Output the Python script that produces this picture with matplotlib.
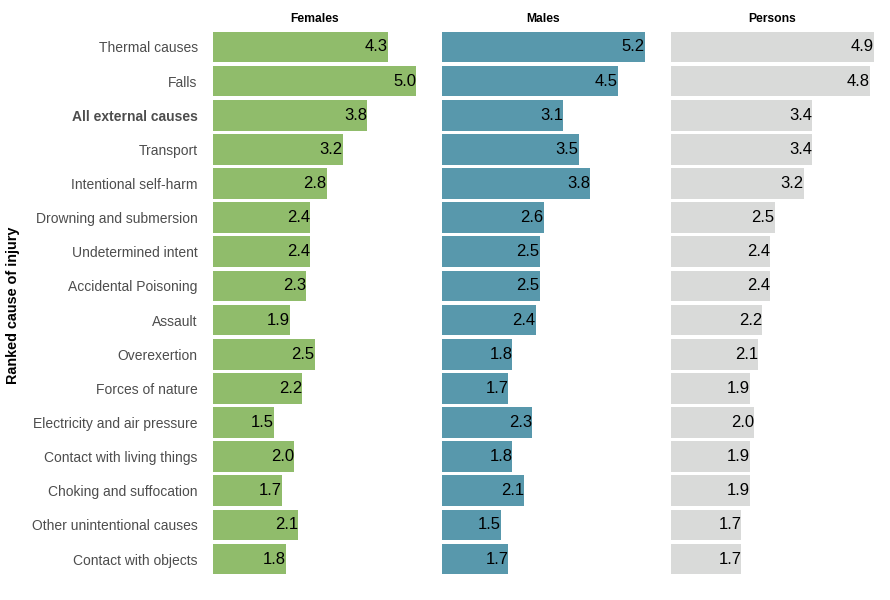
import matplotlib
matplotlib.use('Agg')
import matplotlib.pyplot as plt

plt.rcParams['font.family'] = ['Liberation Sans', 'DejaVu Sans']

causes = ['Thermal causes', 'Falls', 'All external causes', 'Transport',
          'Intentional self-harm', 'Drowning and submersion', 'Undetermined intent',
          'Accidental Poisoning', 'Assault', 'Overexertion', 'Forces of nature',
          'Electricity and air pressure', 'Contact with living things',
          'Choking and suffocation', 'Other unintentional causes', 'Contact with objects']
females = [4.3, 5.0, 3.8, 3.2, 2.8, 2.4, 2.4, 2.3, 1.9, 2.5, 2.2, 1.5, 2.0, 1.7, 2.1, 1.8]
males = [5.2, 4.5, 3.1, 3.5, 3.8, 2.6, 2.5, 2.5, 2.4, 1.8, 1.7, 2.3, 1.8, 2.1, 1.5, 1.7]
persons = [4.9, 4.8, 3.4, 3.4, 3.2, 2.5, 2.4, 2.4, 2.2, 2.1, 1.9, 2.0, 1.9, 1.9, 1.7, 1.7]

panels = [('Females', females, '#90bc6b'),
          ('Males', males, '#5898ac'),
          ('Persons', persons, '#d9dad9')]

fig = plt.figure(figsize=(8.9, 6), dpi=100)
lefts = [213, 442, 671]
pos = list(range(len(causes)))

for i, (name, vals, col) in enumerate(panels):
    ax = fig.add_axes([lefts[i] / 890, 0.037, 203 / 890, 0.916])
    ax.barh(pos, vals, height=0.9, color=col)
    ax.set_xlim(0, max(vals))
    ax.set_ylim(15.55, -0.55)
    for p, v in zip(pos, vals):
        ax.text(v, p, f'{v:.1f}', ha='right', va='center', fontsize=12, color='black')
    ax.set_title(name, fontsize=8.7, fontweight='bold', pad=4.5)
    ax.set_xticks([])
    for s in ax.spines.values():
        s.set_visible(False)
    if i == 0:
        ax.set_yticks(pos)
        ax.set_yticklabels(causes, fontsize=10, color='#4d4d4d')
        ax.tick_params(axis='y', length=0, pad=11)
        ax.get_yticklabels()[2].set_fontweight('bold')
    else:
        ax.set_yticks([])

fig.text(13 / 890, 0.5 - 5 / 600, 'Ranked cause of injury', rotation=90,
         ha='center', va='center', fontsize=10.4, fontweight='bold')

fig.savefig('out.png', dpi=100)
